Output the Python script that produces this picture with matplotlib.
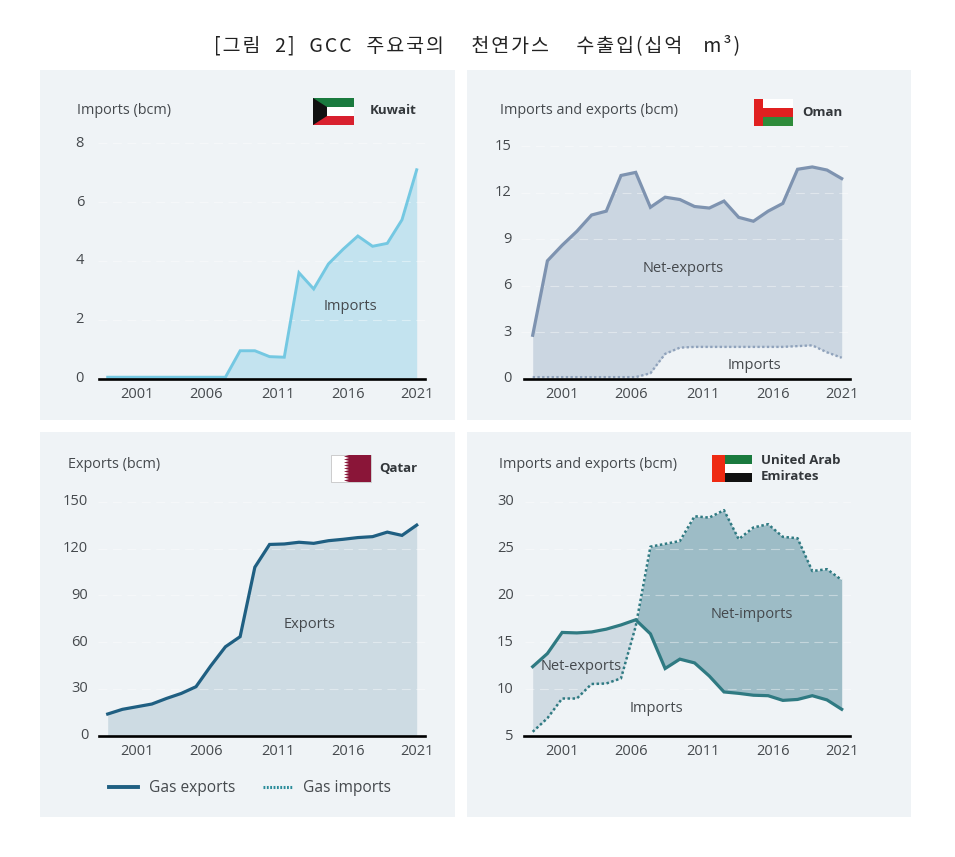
import numpy as np
import matplotlib
matplotlib.use('Agg')
import matplotlib.pyplot as plt
from matplotlib.lines import Line2D
from matplotlib.patches import Polygon, Rectangle

years = list(range(2000, 2022))
tick_labels = ['2001', '2006', '2011', '2016', '2021']

kuwait_imports = [0.05, 0.05, 0.05, 0.05, 0.05, 0.05, 0.05, 0.05, 0.05, 0.95, 0.95,
                  0.75, 0.73, 3.6, 3.05, 3.9, 4.4, 4.85, 4.5, 4.6, 5.4, 7.1]
oman_exports = [2.8, 7.6, 8.6, 9.5, 10.55, 10.8, 13.1, 13.3, 11.05, 11.7, 11.55,
                11.1, 11.0, 11.45, 10.4, 10.15, 10.8, 11.3, 13.5, 13.65, 13.45, 12.9]
oman_imports = [0.1, 0.1, 0.1, 0.1, 0.1, 0.1, 0.1, 0.1, 0.35, 1.6, 2.0,
                2.05, 2.05, 2.05, 2.05, 2.05, 2.05, 2.05, 2.1, 2.15, 1.7, 1.35]
qatar_exports = [13.9, 16.9, 18.6, 20.3, 23.9, 27.1, 31.4, 44.7, 57, 63.5, 108,
                 122.6, 122.9, 124, 123.3, 125, 125.9, 127, 127.6, 130.5, 128.4, 135]
uae_exports = [12.4, 13.8, 16.05, 16.0, 16.1, 16.4, 16.85, 17.4, 15.9, 12.2, 13.2,
               12.8, 11.4, 9.7, 9.55, 9.35, 9.3, 8.8, 8.9, 9.3, 8.85, 7.85]
uae_imports = [5.45, 6.9, 9.0, 9.0, 10.55, 10.6, 11.15, 16.7, 25.2, 25.5, 25.8,
               28.45, 28.3, 29.1, 26, 27.25, 27.6, 26.25, 26.1, 22.6, 22.8, 21.65]

W, H = 955, 857
TEXT = '#45494d'
FONT = 'Open Sans'
plt.rcParams['font.family'] = [FONT, 'DejaVu Sans']

fig = plt.figure(figsize=(W / 100, H / 100), dpi=100, facecolor='white')

# full figure layers in pixel coordinates, below and above the charts
back = fig.add_axes([0, 0, 1, 1], zorder=0)
front = fig.add_axes([0, 0, 1, 1], zorder=5)
for a in (back, front):
    a.set_xlim(0, W)
    a.set_ylim(H, 0)
    a.axis('off')
    a.patch.set_alpha(0)

for (x0, y0, x1, y1) in [(40, 70, 455, 420), (467, 70, 911, 420),
                         (40, 432, 455, 817), (467, 432, 911, 817)]:
    back.add_patch(Rectangle((x0, y0), x1 - x0, y1 - y0, color='#eff3f6', lw=0))


def make_axes(left, right, top, bottom, first_px, last_px, yticks, pad):
    # top is the pixel of the highest tick, bottom the pixel of the lowest
    ax = fig.add_axes([left / W, 1 - bottom / H, (right - left) / W, (bottom - top) / H], zorder=2)
    ax.patch.set_alpha(0)
    per_year = (last_px - first_px) / (years[-1] - years[0])
    ax.set_xlim(years[0] - (first_px - left) / per_year, years[-1] + (right - last_px) / per_year)
    ax.set_ylim(yticks[0], yticks[-1])
    for s in ['top', 'left', 'right']:
        ax.spines[s].set_visible(False)
    ax.spines['bottom'].set_linewidth(1.9)
    ax.spines['bottom'].set_color('black')
    ax.spines['bottom'].set_bounds(years[0] - 0.6, years[-1] + 0.57)
    ax.set_yticks(yticks)
    ax.set_xticks([2002.0, 2006.7, 2011.55, 2016.3, 2021])
    ax.set_xticklabels(tick_labels)
    ax.tick_params(axis='both', length=0, labelsize=10.5, labelcolor=TEXT)
    ax.tick_params(axis='y', pad=pad)
    ax.tick_params(axis='x', pad=6)
    for lab in ax.get_yticklabels():
        lab.set_verticalalignment('center')
    ax.yaxis.grid(True, color='white', lw=0.8, ls=(0, (8, 5)), alpha=0.4)
    ax.set_axisbelow('line')
    return ax


# Kuwait
ax = make_axes(98, 428, 143.3, 378.7, 107.7, 416.7, [0, 2, 4, 6, 8], 10)
ax.fill_between(years, 0, kuwait_imports, color='#c3e3ef', lw=0)
ax.plot(years, kuwait_imports, color='#74c8e2', lw=2.1, solid_joinstyle='miter')

# Oman
ax = make_axes(521, 851, 146, 378.7, 532.7, 841.7, [0, 3, 6, 9, 12, 15], 7)
ax.fill_between(years, oman_imports, oman_exports, color='#cbd6e1', lw=0)
ax.plot(years, oman_exports, color='#7e93b0', lw=2.3, solid_joinstyle='miter')
ax.plot(years, oman_imports, color='#8fa2bb', lw=1.7, ls=(0, (1, 1)))

# Qatar
ax = make_axes(98, 428, 501.7, 735.7, 107.7, 416.7, [0, 30, 60, 90, 120, 150], 7)
ax.fill_between(years, 0, qatar_exports, color='#cddbe3', lw=0)
ax.plot(years, qatar_exports, color='#1f5f82', lw=2.3, solid_joinstyle='miter')

# UAE
ex = np.array(uae_exports)
im = np.array(uae_imports)
ax = make_axes(525, 851, 501.7, 736, 532.7, 841.7, [5, 10, 15, 20, 25, 30], 8)
ax.fill_between(years, im, ex, where=ex >= im, interpolate=True, color='#d0dbe3', lw=0)
ax.fill_between(years, im, ex, where=im >= ex, interpolate=True, color='#9dbcc6', lw=0)
ax.plot(years, uae_exports, color='#2f7a82', lw=2.3, solid_joinstyle='miter')
ax.plot(years, uae_imports, color='#2f7a82', lw=1.8, ls=(0, (1, 1)))

# axis titles and labels
for x, y, s in [(77, 110, 'Imports (bcm)'), (500, 110, 'Imports and exports (bcm)'),
                (67.5, 464, 'Exports (bcm)'), (499, 464, 'Imports and exports (bcm)')]:
    front.text(x, y, s, fontsize=10.4, color=TEXT, ha='left', va='center')
for x, y, s in [(350, 306, 'Imports'), (683, 268, 'Net-exports'), (754, 365, 'Imports'),
                (309.5, 624, 'Exports'), (752, 614, 'Net-imports'), (581, 667, 'Net-exports'),
                (656.5, 709, 'Imports')]:
    front.text(x, y, s, fontsize=10.5, color=TEXT, ha='center', va='center')
for x, y, s in [(370, 110, 'Kuwait'), (802, 112, 'Oman'), (379, 468, 'Qatar'),
                (761, 460, 'United Arab'), (761, 476, 'Emirates')]:
    front.text(x, y, s, fontsize=9.5, color='#33373b', fontweight='bold', ha='left', va='center')

# flags
front.add_patch(Rectangle((313, 98), 41, 9, color='#1a7a3e', lw=0))
front.add_patch(Rectangle((313, 107), 41, 9, color='white', lw=0))
front.add_patch(Rectangle((313, 116), 41, 9, color='#d8202e', lw=0))
front.add_patch(Polygon([(313, 98), (327, 107), (327, 116), (313, 125)], color='#111111', lw=0))

front.add_patch(Rectangle((754, 99), 39, 9, color='white', lw=0))
front.add_patch(Rectangle((754, 108), 39, 9, color='#e02020', lw=0))
front.add_patch(Rectangle((763, 117), 30, 9, color='#2e8b3a', lw=0))
front.add_patch(Rectangle((754, 99), 9, 27, color='#e02020', lw=0))

front.add_patch(Rectangle((331, 455), 40, 27, facecolor='white', edgecolor='#bbbbbb', lw=0.5))
n = 9
teeth = []
for i in range(n):
    teeth += [(349, 455 + 27 * i / n), (344, 455 + 27 * (i + 0.5) / n)]
teeth += [(349, 482), (371, 482), (371, 455)]
front.add_patch(Polygon(teeth, color='#8a1538', lw=0))

front.add_patch(Rectangle((725, 455), 27, 9, color='#1a7a3e', lw=0))
front.add_patch(Rectangle((725, 464), 27, 9, color='white', lw=0))
front.add_patch(Rectangle((725, 473), 27, 9, color='#111111', lw=0))
front.add_patch(Rectangle((712, 455), 13, 27, color='#ee2a12', lw=0))

# legend
handles = [Line2D([], [], color='#1f5f82', lw=2.8),
           Line2D([], [], color='#2a8c9a', lw=2.2, ls=(0, (0.6, 0.5)))]
fig.legend(handles, ['Gas exports', 'Gas imports'], loc='center left',
           bbox_to_anchor=(103 / W, 1 - 788 / H), ncol=2, frameon=False, fontsize=11.2,
           labelcolor=TEXT, handlelength=1.87, handletextpad=0.7, columnspacing=1.74,
           borderaxespad=0)

# title, letter spaced with hair spaces
title = '[그림  2]  GCC  주요국의    천연가스    수출입(십억   m³)'
fig.text(477 / W, 1 - 46 / H, '\u200a'.join(title),
         family=['Noto Sans CJK KR', 'DejaVu Sans'], fontsize=14, color='#222222',
         ha='center', va='center')

fig.savefig('out.png', dpi=100)
